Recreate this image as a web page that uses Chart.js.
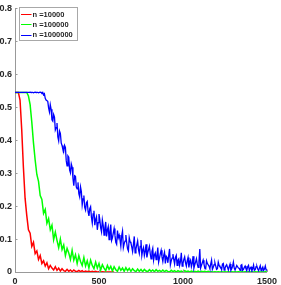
<!DOCTYPE html>
<html>
<head>
<meta charset="utf-8">
<script src="https://cdn.jsdelivr.net/npm/chart.js@4/dist/chart.umd.min.js"></script>
<style>
html,body{margin:0;padding:0;background:#fff;}
canvas{display:block;}
</style>
</head>
<body>
<canvas id="c" width="281" height="285"></canvas>
<script>
// x positions (iterations), step 10, plus half-step positions for the densest series
const steps = Array.from({length: 151}, (_, i) => i * 10);
const halfSteps = Array.from({length: 150}, (_, i) => i * 10 + 5);
const seriesLabels = ['n =10000', 'n =100000', 'n =1000000'];
const xTicks = [0, 500, 1000, 1500];
const yTicks = [0, 0.1, 0.2, 0.3, 0.4, 0.5, 0.6, 0.7, 0.8];

const redValues = [
  0.545, 0.545, 0.545, 0.522, 0.432, 0.318, 0.224, 0.172, 0.128, 0.118,
  0.078, 0.09, 0.056, 0.064, 0.038, 0.05, 0.026, 0.034, 0.018, 0.028,
  0.01, 0.02, 0.012, 0.006, 0.016, 0.005, 0.012, 0.003, 0.01, 0.004,
  0.002, 0.008, 0.002, 0.006, 0.001, 0.006, 0.002, 0.001, 0.005, 0.001,
  0.004, 0, 0.003, 0.001, 0.003, 0, 0.002, 0, 0.002, 0,
  0.001, 0, 0.001, 0, 0, 0, 0, 0, 0, 0
];

const greenValues = [
  0.545, 0.545, 0.545, 0.545, 0.545, 0.545, 0.545, 0.545, 0.534, 0.508,
  0.455, 0.392, 0.34, 0.296, 0.275, 0.232, 0.22, 0.178, 0.19, 0.148,
  0.162, 0.128, 0.142, 0.098, 0.121, 0.096, 0.074, 0.1, 0.068, 0.082,
  0.05, 0.072, 0.058, 0.038, 0.066, 0.036, 0.052, 0.026, 0.05, 0.032,
  0.02, 0.044, 0.018, 0.034, 0.012, 0.036, 0.02, 0.01, 0.03, 0.012,
  0.026, 0.006, 0.022, 0.012, 0.004, 0.02, 0.008, 0.017, 0.003, 0.016,
  0.007, 0.002, 0.015, 0.005, 0.012, 0.002, 0.013, 0.004, 0.011, 0.002,
  0.01, 0.004, 0.001, 0.009, 0.002, 0.008, 0.001, 0.008, 0.003, 0.001,
  0.007, 0.002, 0.006, 0.001, 0.007, 0.002, 0.005, 0.001, 0.006, 0.001,
  0.005, 0.002, 0, 0.005, 0.001, 0.004, 0, 0.004, 0.001, 0.003,
  0, 0.004, 0.001, 0.003, 0, 0.003, 0.001, 0.002, 0, 0.003,
  0, 0.002, 0.001, 0.002, 0, 0.002, 0, 0.001, 0, 0.001,
  0, 0.001, 0, 0.001, 0, 0.001, 0, 0.001, 0, 0.001,
  0, 0.001, 0, 0.001, 0, 0.001, 0, 0.001, 0, 0.001,
  0, 0.001, 0, 0.001, 0, 0.001, 0, 0.001, 0, 0.001,
  0
];

// n = 1000000 at x = 0, 10, ..., 1500
const blueValues = [
  0.545, 0.545, 0.545, 0.545, 0.545, 0.545, 0.545, 0.545, 0.545, 0.546,
  0.545, 0.544, 0.546, 0.545, 0.544, 0.546, 0.543, 0.538, 0.527, 0.522,
  0.498, 0.508, 0.462, 0.478, 0.431, 0.452, 0.398, 0.421, 0.384, 0.366,
  0.378, 0.322, 0.348, 0.301, 0.318, 0.262, 0.29, 0.252, 0.238, 0.258,
  0.204, 0.232, 0.188, 0.214, 0.17, 0.198, 0.148, 0.186, 0.16, 0.128,
  0.176, 0.134, 0.158, 0.112, 0.152, 0.128, 0.098, 0.144, 0.104, 0.132,
  0.09, 0.126, 0.112, 0.078, 0.124, 0.086, 0.112, 0.07, 0.104, 0.088,
  0.062, 0.108, 0.07, 0.094, 0.056, 0.097, 0.066, 0.05, 0.084, 0.058,
  0.078, 0.04, 0.072, 0.052, 0.038, 0.074, 0.042, 0.066, 0.032, 0.06,
  0.048, 0.028, 0.07, 0.034, 0.054, 0.024, 0.05, 0.036, 0.02, 0.058,
  0.026, 0.046, 0.018, 0.044, 0.03, 0.016, 0.048, 0.022, 0.04, 0.014,
  0.07, 0.02, 0.036, 0.012, 0.034, 0.022, 0.01, 0.036, 0.014, 0.028,
  0.008, 0.03, 0.016, 0.007, 0.026, 0.012, 0.022, 0.006, 0.024, 0.01,
  0.03, 0.006, 0.02, 0.012, 0.005, 0.022, 0.008, 0.018, 0.005, 0.02,
  0.012, 0.004, 0.021, 0.007, 0.017, 0.004, 0.019, 0.01, 0.005, 0.018,
  0.008
];

// n = 1000000 at x = 5, 15, ..., 1495
const blueHalfValues = [
  0.545, 0.545, 0.545, 0.545, 0.545, 0.545, 0.545, 0.545, 0.545, 0.545,
  0.545, 0.545, 0.545, 0.545, 0.545, 0.545, 0.545, 0.541, 0.522, 0.518,
  0.486, 0.494, 0.458, 0.47, 0.438, 0.41, 0.428, 0.392, 0.372, 0.384,
  0.338, 0.352, 0.31, 0.328, 0.284, 0.292, 0.258, 0.272, 0.228, 0.244,
  0.222, 0.196, 0.21, 0.184, 0.192, 0.166, 0.176, 0.142, 0.168, 0.15,
  0.158, 0.122, 0.142, 0.134, 0.108, 0.138, 0.122, 0.096, 0.118, 0.112,
  0.084, 0.104, 0.098, 0.11, 0.074, 0.094, 0.088, 0.064, 0.092, 0.076,
  0.084, 0.058, 0.082, 0.068, 0.078, 0.05, 0.074, 0.062, 0.044, 0.068,
  0.056, 0.062, 0.036, 0.058, 0.05, 0.03, 0.056, 0.046, 0.05, 0.026,
  0.044, 0.05, 0.022, 0.042, 0.038, 0.044, 0.02, 0.04, 0.032, 0.018,
  0.038, 0.028, 0.034, 0.014, 0.036, 0.026, 0.012, 0.03, 0.024, 0.032,
  0.012, 0.028, 0.024, 0.01, 0.026, 0.018, 0.024, 0.008, 0.022, 0.018,
  0.01, 0.02, 0.014, 0.024, 0.006, 0.018, 0.014, 0.016, 0.005, 0.017,
  0.012, 0.006, 0.016, 0.011, 0.02, 0.005, 0.014, 0.01, 0.016, 0.004,
  0.015, 0.01, 0.005, 0.016, 0.009, 0.012, 0.004, 0.015, 0.009, 0.006
];

const colors = ['#ff0000', '#00ff00', '#0000ff'];

function toPoints(xs, ys) {
  return ys.map((v, k) => ({x: xs[k], y: v}));
}
function mergePoints(a, b) {
  return a.concat(b).sort((p, q) => p.x - q.x);
}

const seriesData = [
  toPoints(steps, redValues),
  toPoints(steps, greenValues),
  mergePoints(toPoints(steps, blueValues), toPoints(halfSteps, blueHalfValues))
];

const datasets = seriesData.map((pts, i) => ({
  label: seriesLabels[i],
  data: pts,
  borderColor: colors[i],
  backgroundColor: colors[i],
  borderWidth: i === 2 ? 1.3 : 1.5,
  pointRadius: 0,
  tension: 0,
  fill: false,
  order: 2 - i
}));

const tickFont = {family: 'Liberation Sans, Arial, sans-serif', size: 9, weight: 'bold'};

const legendPlugin = {
  id: 'insideLegend',
  afterDraw(chart) {
    const ctx = chart.ctx;
    const bx = 19.5, by = 7.5, bw = 58, bh = 33;
    ctx.save();
    ctx.fillStyle = '#ffffff';
    ctx.fillRect(bx, by, bw, bh);
    ctx.strokeStyle = '#a8a8a8';
    ctx.lineWidth = 1;
    ctx.strokeRect(bx, by, bw, bh);
    ctx.font = 'bold 7.5px Liberation Sans, Arial, sans-serif';
    ctx.textBaseline = 'middle';
    ctx.textAlign = 'left';
    chart.data.datasets.forEach((ds, i) => {
      const y = 14 + i * 10.3;
      ctx.strokeStyle = ds.borderColor;
      ctx.lineWidth = 1;
      ctx.beginPath();
      ctx.moveTo(21, Math.round(y) + 0.5);
      ctx.lineTo(31.5, Math.round(y) + 0.5);
      ctx.stroke();
      ctx.fillStyle = '#262626';
      ctx.fillText(ds.label, 32.5, y + 0.5);
    });
    ctx.restore();
  }
};

const innerTicks = {
  id: 'innerTicks',
  afterDatasetsDraw(chart) {
    const ctx = chart.ctx;
    const xs = chart.scales.x, ys = chart.scales.y;
    const a = chart.chartArea;
    ctx.save();
    ctx.strokeStyle = '#999999';
    ctx.lineWidth = 1;
    ctx.beginPath();
    yTicks.forEach(v => {
      const py = Math.round(ys.getPixelForValue(v)) + 0.5;
      ctx.moveTo(a.left, py);
      ctx.lineTo(a.left + 2.5, py);
    });
    xTicks.forEach(v => {
      const px = Math.round(xs.getPixelForValue(v)) + 0.5;
      ctx.moveTo(px, a.bottom);
      ctx.lineTo(px, a.bottom - 2.5);
    });
    ctx.stroke();
    ctx.restore();
  }
};

new Chart(document.getElementById('c'), {
  type: 'line',
  data: {datasets},
  options: {
    responsive: false,
    animation: false,
    devicePixelRatio: 1,
    layout: {padding: {top: 4, right: 11, left: 0, bottom: 0}},
    plugins: {legend: {display: false}, tooltip: {enabled: false}},
    scales: {
      x: {
        type: 'linear',
        min: 0,
        max: 1500,
        afterBuildTicks(s) { s.ticks = xTicks.map(v => ({value: v})); },
        afterFit(s) { s.height = 13; },
        grid: {display: false, drawTicks: false},
        border: {display: true, color: '#999999', width: 1},
        ticks: {font: tickFont, color: '#262626', padding: 4, maxRotation: 0, autoSkip: false,
          callback: v => String(v)}
      },
      y: {
        type: 'linear',
        min: 0,
        max: 0.8,
        afterBuildTicks(s) { s.ticks = yTicks.map(v => ({value: v})); },
        afterFit(s) { s.width = 15; },
        grid: {display: false, drawTicks: false},
        border: {display: true, color: '#999999', width: 1},
        ticks: {font: tickFont, color: '#262626', padding: 3, autoSkip: false,
          callback: v => String(Math.round(v * 10) / 10)}
      }
    }
  },
  plugins: [innerTicks, legendPlugin]
});
</script>
</body>
</html>
